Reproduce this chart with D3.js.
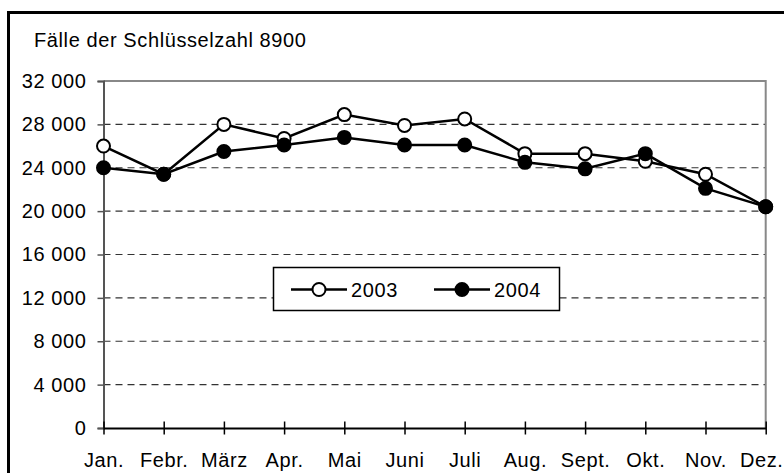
<!DOCTYPE html>
<html>
<head>
<meta charset="utf-8">
<script src="https://cdn.jsdelivr.net/npm/d3@7"></script>
<style>
  body { margin: 0; background: #fff; }
  svg { display: block; }
  text { font-family: "Liberation Sans", Arial, sans-serif; font-size: 20px; letter-spacing: 0.6px; fill: #000; }
</style>
</head>
<body>
<div id="chart_div"></div>
<script>
// data
const months = ["Jan.", "Febr.", "März", "Apr.", "Mai", "Juni", "Juli", "Aug.", "Sept.", "Okt.", "Nov.", "Dez."];
const cases2003 = [26000, 23400, 28000, 26700, 28900, 27900, 28500, 25300, 25300, 24600, 23400, 20400];
const cases2004 = [24000, 23400, 25500, 26100, 26800, 26100, 26100, 24500, 23900, 25300, 22100, 20400];
const yTicks = [0, 4000, 8000, 12000, 16000, 20000, 24000, 28000, 32000];
const seriesNames = ["2003", "2004"];
const chartTitle = "Fälle der Schlüsselzahl 8900";

const width = 784, height = 473;
const plot = {left: 103.5, right: 765.7, top: 81, bottom: 428};

const svg = d3.select("#chart_div")
  .append("svg")
    .attr("width", width)
    .attr("height", height);

// outer frame (runs off the right and bottom edge like the scan)
svg.append("rect")
  .attr("x", 8.5).attr("y", 12.5)
  .attr("width", 820).attr("height", 520)
  .attr("fill", "none")
  .attr("stroke", "#000")
  .attr("stroke-width", 3);

svg.append("text")
  .attr("x", 34).attr("y", 46.5)
  .text(chartTitle);

const x = d3.scalePoint()
  .domain(months)
  .range([plot.left, plot.right])
  .padding(0);

const y = d3.scaleLinear()
  .domain([0, 32000])
  .range([plot.bottom, plot.top]);

const de = d3.formatLocale({decimal: ",", thousands: " ", grouping: [3], currency: ["", " €"]});
const fmt = de.format(",d");

// dashed gridlines
svg.append("g")
  .selectAll("line")
  .data(yTicks.filter(d => d > 0 && d < 32000))
  .join("line")
    .attr("x1", plot.left).attr("x2", plot.right)
    .attr("y1", d => y(d)).attr("y2", d => y(d))
    .attr("stroke", "#333")
    .attr("stroke-width", 1.2)
    .attr("stroke-dasharray", "7,5");

// plot area frame (top / right in gray)
svg.append("path")
  .attr("d", `M${plot.left},${plot.top}H${plot.right}V${plot.bottom}`)
  .attr("fill", "none")
  .attr("stroke", "#888")
  .attr("stroke-width", 2);

// y axis
const yAxis = svg.append("g")
  .attr("transform", `translate(${plot.left},0)`)
  .call(d3.axisLeft(y).tickValues(yTicks).tickSize(6).tickPadding(11).tickFormat(fmt));
yAxis.select(".domain").attr("stroke", "#555").attr("stroke-width", 2);
yAxis.selectAll(".tick line").attr("stroke", "#555").attr("stroke-width", 1.5);
yAxis.selectAll("text").attr("font-size", null).attr("font-family", null);

// x axis, ticks cross the line
const xAxis = svg.append("g")
  .attr("transform", `translate(0,${plot.bottom})`)
  .call(d3.axisBottom(x).tickSize(6).tickSizeOuter(0));
xAxis.select(".domain").attr("stroke", "#000").attr("stroke-width", 2);
xAxis.selectAll(".tick line").attr("y1", -6.5).attr("y2", 6.5).attr("stroke", "#000").attr("stroke-width", 1.5);
xAxis.selectAll("text").attr("y", 25).attr("font-size", null).attr("font-family", null);
// last label sits against the right edge
xAxis.selectAll("text").filter(d => d === months[months.length - 1])
  .attr("text-anchor", "end")
  .attr("x", width - 1 - plot.right);

// lines + markers
const line = d3.line()
  .x((d, i) => x(months[i]))
  .y(d => y(d));

const series = [
  {name: seriesNames[0], values: cases2003, fill: "#fff"},
  {name: seriesNames[1], values: cases2004, fill: "#000"}
];

series.forEach(s => {
  const g = svg.append("g");
  g.append("path")
    .datum(s.values)
    .attr("d", line)
    .attr("fill", "none")
    .attr("stroke", "#000")
    .attr("stroke-width", 2.5);
  g.selectAll("circle")
    .data(s.values)
    .join("circle")
      .attr("cx", (d, i) => x(months[i]))
      .attr("cy", d => y(d))
      .attr("r", 6.5)
      .attr("fill", s.fill)
      .attr("stroke", "#000")
      .attr("stroke-width", 2);
});

// legend
const legend = svg.append("g").attr("transform", "translate(273.5,267.5)");
legend.append("rect")
  .attr("width", 286).attr("height", 43)
  .attr("fill", "#fff")
  .attr("stroke", "#000")
  .attr("stroke-width", 1.5);

const legendItems = legend.selectAll("g.item")
  .data(series)
  .join("g")
    .attr("class", "item")
    .attr("transform", (d, i) => `translate(${17.5 + i * 143},22)`);
legendItems.append("line")
  .attr("x1", 0).attr("x2", 56)
  .attr("stroke", "#000").attr("stroke-width", 2.5);
legendItems.append("circle")
  .attr("cx", 28).attr("r", 6.5)
  .attr("fill", d => d.fill)
  .attr("stroke", "#000").attr("stroke-width", 2);
legendItems.append("text")
  .attr("x", 60).attr("dy", "0.35em")
  .text(d => d.name);
</script>
</body>
</html>
